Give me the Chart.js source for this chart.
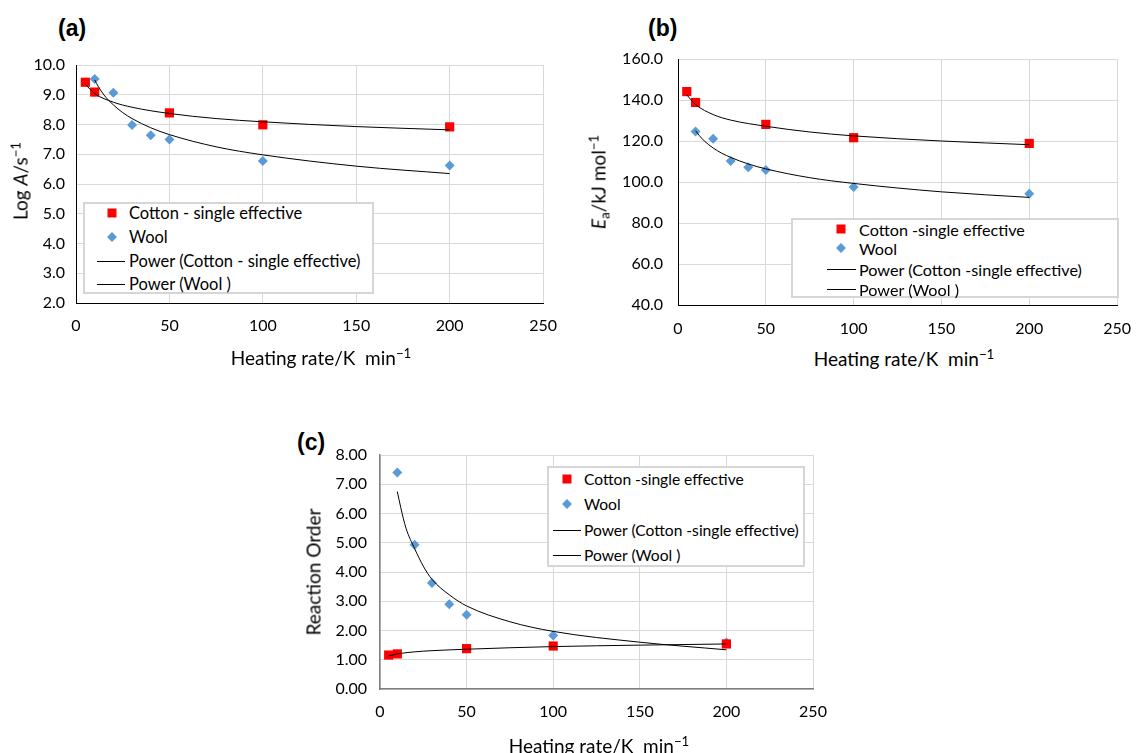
<!DOCTYPE html>
<html lang="en">
<head>
<meta charset="UTF-8">
<title>Kinetic parameters vs heating rate</title>
<script src="https://cdn.jsdelivr.net/npm/chart.js"></script>
<style>
  body { margin: 0; background: #fff; font-family: Lato, "Open Sans", sans-serif; color: #000; }
  #page { position: relative; width: 1145px; height: 753px; overflow: hidden; background: #fff; }
  .plot { position: absolute; }
  .tag { position: absolute; font: bold 23px "Liberation Sans", Arial, sans-serif; transform: translateY(-50%); }
  .axis-title { position: absolute; font-size: 19px; white-space: nowrap; transform: translate(-50%, -50%); }
  .axis-title.vert { transform: translate(-50%, -50%) rotate(-90deg); }
  .axis-title sup, .axis-title sub { font-size: 0.7em; line-height: 0; position: relative; vertical-align: baseline; }
  .axis-title sup { top: -0.5em; }
  .axis-title sub { top: 0.3em; }
  .legend { position: absolute; box-sizing: border-box; border: 2px solid #d6d6d6; background: #fff; }
  .key-text { position: absolute; white-space: nowrap; transform: translateY(-50%); }
  .key-line { position: absolute; height: 0; border-top: 1px solid #000; }
  .key-square { position: absolute; width: 9px; height: 9px; background: #ff0000; transform: translate(-50%, -50%); }
  .key-diamond { position: absolute; width: 7px; height: 7px; background: #5b9bd5; transform: translate(-50%, -50%) rotate(45deg); }
</style>
</head>
<body>
<div id="page">
  <div class="tag" style="left:58px; top:28px;">(a)</div>
  <div class="tag" style="left:648px; top:28px;">(b)</div>
  <div class="tag" style="left:297px; top:442px;">(c)</div>

  <canvas id="chartA" class="plot" width="570" height="345" style="left:0px; top:0px;"></canvas>
  <canvas id="chartB" class="plot" width="570" height="345" style="left:575px; top:0px;"></canvas>
  <canvas id="chartC" class="plot" width="560" height="333" style="left:290px; top:420px;"></canvas>

  <div class="axis-title vert" style="left:20px; top:181px;">Log <i>A</i>/s<sup>−1</sup></div>
  <div class="axis-title" style="left:321px; top:357px;">Heating rate/K&nbsp; min<sup>−1</sup></div>
  <div class="axis-title vert" style="left:598px; top:182px;"><i>E</i><sub>a</sub>/kJ mol<sup>−1</sup></div>
  <div class="axis-title" style="left:904px; top:358px;">Heating rate/K&nbsp; min<sup>−1</sup></div>
  <div class="axis-title vert" style="left:313px; top:572px;">Reaction Order</div>
  <div class="axis-title" style="left:599px; top:745px;">Heating rate/K&nbsp; min<sup>−1</sup></div>
</div>

<script>
  // heating rates (K min-1)
  const cottonRates = [5, 10, 50, 100, 200];
  const woolRates = [10, 20, 30, 40, 50, 100, 200];

  // (a) log A
  const cottonLogA = [9.42, 9.09, 8.39, 7.99, 7.92];
  const woolLogA = [9.53, 9.07, 7.98, 7.64, 7.50, 6.77, 6.62];
  // (b) activation energy, kJ/mol
  const cottonEa = [144.1, 138.8, 128.1, 121.6, 118.8];
  const woolEa = [124.6, 121.1, 110.3, 107.2, 105.8, 97.6, 94.3];
  // (c) reaction order
  const cottonOrder = [1.16, 1.20, 1.38, 1.47, 1.54];
  const woolOrder = [7.40, 4.93, 3.62, 2.90, 2.54, 1.83, 1.59];

  // power trend lines
  const cottonFitRates = [5, 10, 20, 30, 50, 75, 100, 150, 200];
  const woolFitRates = [10, 12, 15, 20, 25, 30, 40, 50, 75, 100, 150, 200];
  const cottonLogAFit = [9.35, 9.04, 8.75, 8.58, 8.37, 8.20, 8.09, 7.93, 7.82];
  const woolLogAFit = [9.50, 9.27, 8.99, 8.66, 8.40, 8.20, 7.89, 7.66, 7.25, 6.98, 6.60, 6.35];
  const cottonEaFit = [142.5, 137.8, 132.9, 130.2, 127.2, 124.4, 122.5, 120.0, 118.2];
  const woolEaFit = [125.0, 122.8, 120.0, 116.6, 114.0, 112.0, 108.8, 106.4, 102.1, 99.3, 95.2, 92.5];
  const cottonOrderFit = [1.13, 1.20, 1.27, 1.31, 1.36, 1.41, 1.45, 1.50, 1.54];
  const woolOrderFit = [6.75, 6.20, 5.50, 4.80, 4.20, 3.75, 3.22, 2.84, 2.30, 1.97, 1.60, 1.34];

  const xTickMin = 0, xTickMax = 250, xTickStep = 50;

  const RED = '#ff0000';
  const BLUE = '#5b9bd5';

  function points(xs, ys) {
    return xs.map((x, i) => ({ x: x, y: ys[i] }));
  }

  function markerSet(label, xs, ys, color, style, radius) {
    return {
      label: label,
      data: points(xs, ys),
      showLine: false,
      pointStyle: style,
      pointRadius: radius,
      pointHoverRadius: radius,
      backgroundColor: color,
      borderColor: color,
      borderWidth: 0,
      order: 1
    };
  }

  function trendSet(label, xs, ys) {
    return {
      label: label,
      data: points(xs, ys),
      showLine: true,
      pointRadius: 0,
      pointHoverRadius: 0,
      borderColor: '#000',
      borderWidth: 1,
      cubicInterpolationMode: 'monotone',
      fill: false,
      order: 0
    };
  }

  function makeChart(id, p) {
    const ctx = document.getElementById(id).getContext('2d');
    return new Chart(ctx, {
      type: 'scatter',
      data: { datasets: p.datasets },
      options: {
        responsive: false,
        animation: false,
        events: [],
        layout: { padding: { top: p.padTop, right: p.padRight, left: 0, bottom: 0 } },
        plugins: { legend: { display: false }, tooltip: { enabled: false } },
        scales: {
          x: {
            type: 'linear',
            min: xTickMin,
            max: xTickMax,
            afterFit: (axis) => { axis.height = p.xHeight; },
            ticks: { stepSize: xTickStep, padding: p.tickPadX, color: '#000', font: { family: 'Lato', size: 16 } },
            grid: { color: '#d9d9d9', lineWidth: 1, drawTicks: false },
            border: { color: p.axisColor, width: p.axisWidth }
          },
          y: {
            type: 'linear',
            min: p.yMin,
            max: p.yMax,
            afterFit: (axis) => { axis.width = p.yWidth; },
            ticks: {
              stepSize: p.yStep,
              padding: p.tickPadY,
              color: '#000',
              font: { family: 'Lato', size: 16 },
              callback: (v) => v.toFixed(p.digits)
            },
            grid: { color: '#d9d9d9', lineWidth: 1, drawTicks: false },
            border: { color: p.axisColor, width: p.axisWidth }
          }
        }
      }
    });
  }

  // boxed legend laid over the plot area, built from the chart's datasets
  function addLegend(chart, lg) {
    const page = document.getElementById('page');
    const box = document.createElement('div');
    box.className = 'legend';
    Object.assign(box.style, {
      left: lg.left + 'px', top: lg.top + 'px',
      width: lg.width + 'px', height: lg.height + 'px'
    });
    page.appendChild(box);

    chart.data.datasets.forEach((ds, i) => {
      const y = lg.rows[i];
      const mark = document.createElement('div');
      if (ds.showLine) {
        mark.className = 'key-line';
        mark.style.left = lg.line[0] + 'px';
        mark.style.width = (lg.line[1] - lg.line[0]) + 'px';
        mark.style.top = y + 'px';
      } else {
        mark.className = ds.pointStyle === 'rect' ? 'key-square' : 'key-diamond';
        mark.style.left = lg.markX + 'px';
        mark.style.top = y + 'px';
      }
      page.appendChild(mark);

      const text = document.createElement('div');
      text.className = 'key-text';
      text.textContent = ds.label;
      text.style.left = lg.textX + 'px';
      text.style.top = y + 'px';
      text.style.fontSize = lg.fontSize + 'px';
      page.appendChild(text);
    });
  }

  const chartA = makeChart('chartA', {
    yMin: 2, yMax: 10, yStep: 1, digits: 1,
    yWidth: 76, xHeight: 42, padTop: 65, padRight: 26,
    tickPadX: 13, tickPadY: 11, axisColor: '#000', axisWidth: 1,
    datasets: [
      markerSet('Cotton - single effective', cottonRates, cottonLogA, RED, 'rect', 6.5),
      markerSet('Wool', woolRates, woolLogA, BLUE, 'rectRot', 5),
      trendSet('Power (Cotton - single effective)', cottonFitRates, cottonLogAFit),
      trendSet('Power (Wool )', woolFitRates, woolLogAFit)
    ]
  });

  const chartB = makeChart('chartB', {
    yMin: 40, yMax: 160, yStep: 20, digits: 1,
    yWidth: 103, xHeight: 40, padTop: 59, padRight: 18,
    tickPadX: 14, tickPadY: 15, axisColor: '#000', axisWidth: 1,
    datasets: [
      markerSet('Cotton -single effective', cottonRates, cottonEa, RED, 'rect', 6.5),
      markerSet('Wool', woolRates, woolEa, BLUE, 'rectRot', 5),
      trendSet('Power (Cotton -single effective)', cottonFitRates, cottonEaFit),
      trendSet('Power (Wool )', woolFitRates, woolEaFit)
    ]
  });

  const chartC = makeChart('chartC', {
    yMin: 0, yMax: 8, yStep: 1, digits: 2,
    yWidth: 90, xHeight: 64, padTop: 35, padRight: 37,
    tickPadX: 13, tickPadY: 13, axisColor: '#7f7f7f', axisWidth: 1.5,
    datasets: [
      markerSet('Cotton -single effective', cottonRates, cottonOrder, RED, 'rect', 6.5),
      markerSet('Wool', woolRates, woolOrder, BLUE, 'rectRot', 5),
      trendSet('Power (Cotton -single effective)', cottonFitRates, cottonOrderFit),
      trendSet('Power (Wool )', woolFitRates, woolOrderFit)
    ]
  });

  addLegend(chartA, { left: 83, top: 202, width: 291, height: 92, rows: [213, 237, 261, 284], markX: 112, line: [97, 125], textX: 129, fontSize: 16.5 });
  addLegend(chartB, { left: 791, top: 218, width: 328, height: 80, rows: [229, 248, 269, 289], markX: 841, line: [827, 856], textX: 859, fontSize: 16.2 });
  addLegend(chartC, { left: 547, top: 466, width: 258, height: 101, rows: [479, 504, 530, 555], markX: 567, line: [553, 581], textX: 584, fontSize: 15.6 });
</script>
</body>
</html>
